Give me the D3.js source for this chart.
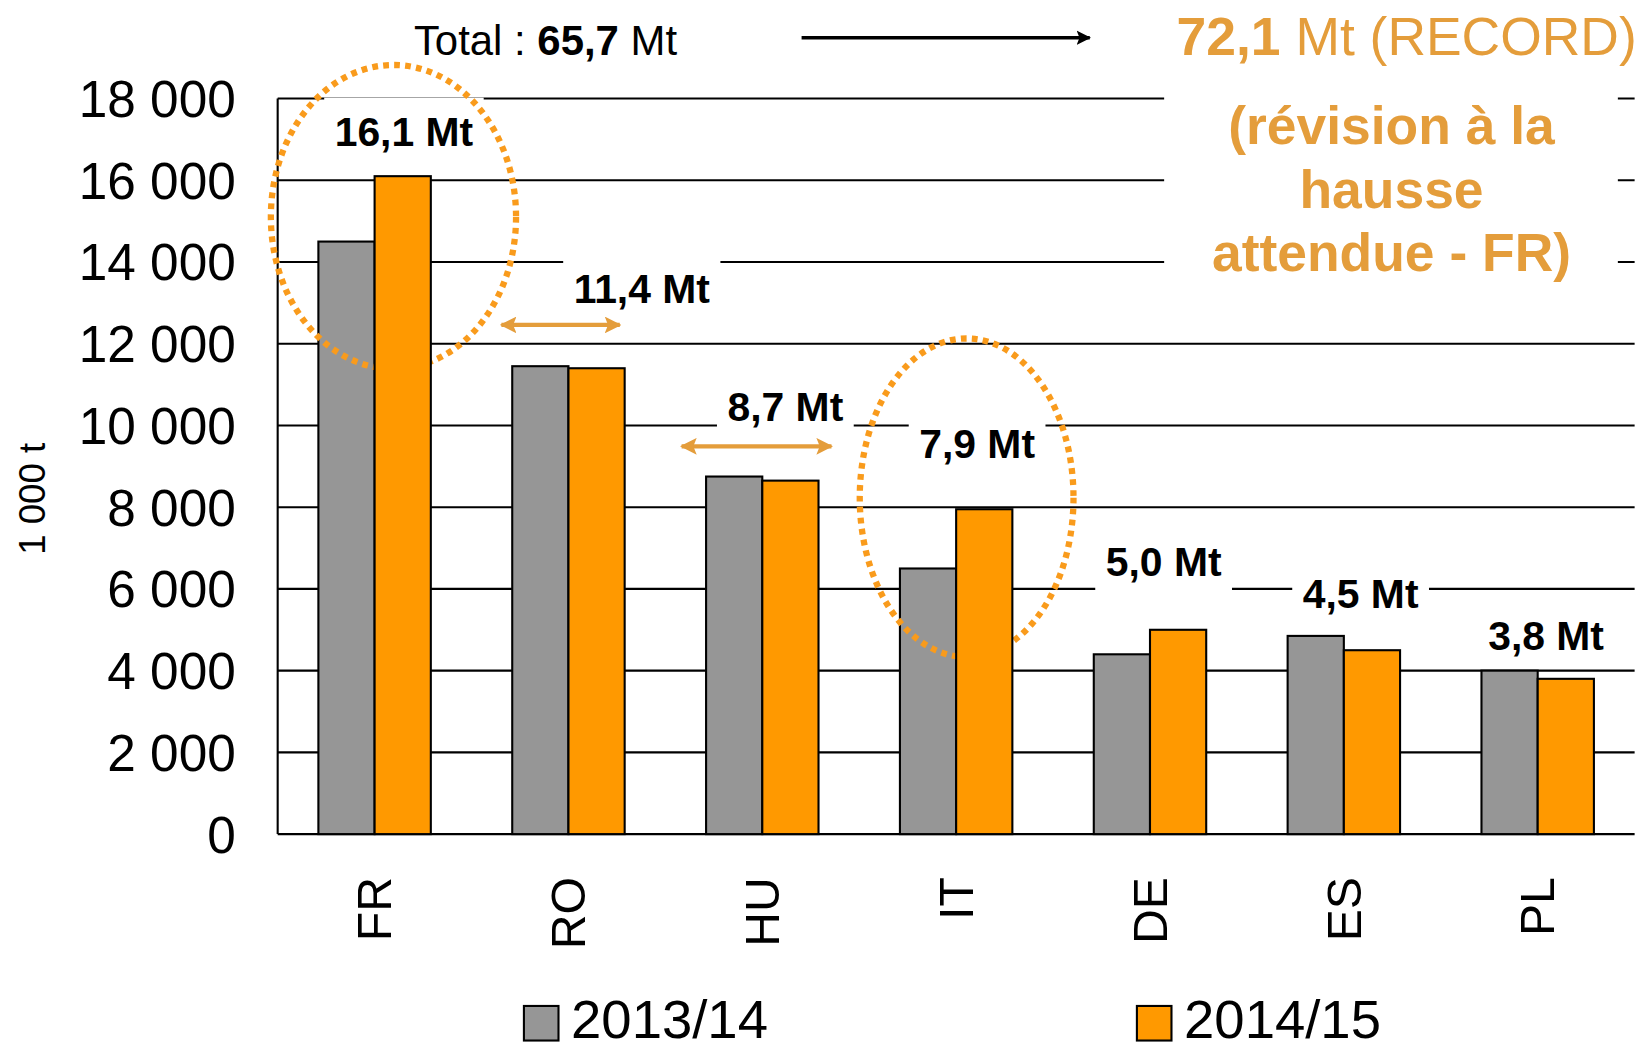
<!DOCTYPE html>
<html>
<head>
<meta charset="utf-8">
<script src="https://cdn.jsdelivr.net/npm/d3@7"></script>
<style>
  body { margin: 0; background: #fff; }
  svg { display: block; font-family: "Liberation Sans", Arial, sans-serif; }
</style>
</head>
<body>
<script>
// data
const categories = ["FR", "RO", "HU", "IT", "DE", "ES", "PL"];
const seriesNames = ["2013/14", "2014/15"];
const values2013 = [14500, 11450, 8750, 6500, 4400, 4850, 4000];
const values2014 = [16100, 11400, 8650, 7950, 5000, 4500, 3800];
const barLabels = ["16,1 Mt", "11,4 Mt", "8,7 Mt", "7,9 Mt", "5,0 Mt", "4,5 Mt", "3,8 Mt"];
const yTicks = [0, 2000, 4000, 6000, 8000, 10000, 12000, 14000, 16000, 18000];

const colors = ["#969696", "#FF9900"];
const accent = "#E49D3B";
const dotted = "#F99B1C";

function plot() {
  // drawing is laid out in a 1568x1002 box, scaled to the window
  let margin = {top: 94, right: 8, bottom: 206, left: 265};
  let W = 1568, H = 1002;

  let svg = d3.select("body").append("svg")
    .attr("width", 1643).attr("height", 1050)
    .attr("viewBox", "0 0 " + W + " " + H);

  let x = d3.scaleBand().domain(categories)
    .range([margin.left, W - margin.right])
    .paddingInner(0.42).paddingOuter(0.21);
  let xs = d3.scaleBand().domain(seriesNames).range([0, x.bandwidth()]);
  let y = d3.scaleLinear().domain([0, 18000]).range([H - margin.bottom, margin.top]);
  let cx = c => x(c) + x.bandwidth() / 2;

  // gridlines
  svg.append("g").selectAll("line").data(yTicks).join("line")
    .attr("x1", margin.left).attr("x2", W - margin.right)
    .attr("y1", d => y(d)).attr("y2", d => y(d))
    .attr("stroke", "#000").attr("stroke-width", 2);

  // y tick labels
  svg.append("g").selectAll("text").data(yTicks).join("text")
    .attr("x", 225).attr("y", d => y(d)).attr("dy", "0.36em")
    .attr("text-anchor", "end").attr("font-size", 49)
    .text(d => d3.format(",")(d).replace(",", " "));

  // y title
  svg.append("text")
    .attr("transform", "translate(43,476) rotate(-90)")
    .attr("text-anchor", "middle").attr("font-size", 35)
    .text("1 000 t");

  // bar labels: offset from category centre, vertical position in data units
  let labelPos = [[28, 17200], [70, 13360], [22, 10460], [20, 9560], [13, 6670], [16, 5900], [8, 4870]];
  let labels = svg.append("g");
  barLabels.forEach((t, i) => {
    let g = labels.append("g")
      .attr("transform", "translate(" + (cx(categories[i]) + labelPos[i][0]) + "," + y(labelPos[i][1]) + ")");
    let txt = g.append("text").attr("text-anchor", "middle").attr("dy", "0.36em")
      .attr("font-size", 39).attr("font-weight", "bold").text(t);
    let w = txt.node().getComputedTextLength();
    g.insert("rect", "text").attr("x", -w / 2 - 10).attr("y", -32)
      .attr("width", w + 20).attr("height", 62).attr("fill", "#fff");
  });

  // right annotation box
  svg.append("rect").attr("x", 1111).attr("y", 84).attr("width", 433).attr("height", 210).attr("fill", "#fff");
  let note = svg.append("text").attr("text-anchor", "middle").attr("font-size", 51)
    .attr("font-weight", "bold").attr("fill", accent);
  ["(révision à la", "hausse", "attendue - FR)"].forEach((t, i) => {
    note.append("tspan").attr("x", 1328).attr("y", 137 + i * 61).text(t);
  });

  // axis line
  svg.append("line").attr("x1", margin.left).attr("x2", margin.left)
    .attr("y1", margin.top).attr("y2", y(0))
    .attr("stroke", "#000").attr("stroke-width", 2);

  function bars(vals, k) {
    svg.append("g").selectAll("rect").data(vals).join("rect")
      .attr("x", (d, i) => x(categories[i]) + xs(seriesNames[k]))
      .attr("y", d => y(d))
      .attr("width", xs.bandwidth())
      .attr("height", d => y(0) - y(d))
      .attr("fill", colors[k]).attr("stroke", "#000").attr("stroke-width", 2);
  }

  bars(values2013, 0);

  // dotted ellipses (sit between the two series)
  let ell = [["FR", 18, 207, 117, 145], ["IT", 10, 475, 102, 152]];
  svg.append("g").selectAll("ellipse").data(ell).join("ellipse")
    .attr("cx", d => cx(d[0]) + d[1]).attr("cy", d => d[2])
    .attr("rx", d => d[3]).attr("ry", d => d[4])
    .attr("fill", "none").attr("stroke", dotted)
    .attr("stroke-width", 6).attr("stroke-dasharray", "5.5 5");

  bars(values2014, 1);

  // x labels
  svg.append("g").selectAll("text").data(categories).join("text")
    .attr("transform", d => "translate(" + (cx(d) + 16) + ",837) rotate(-90)")
    .attr("text-anchor", "end").attr("font-size", 46)
    .text(d => d);

  // arrows
  let defs = svg.append("defs");
  function head(id, col) {
    defs.append("marker").attr("id", id).attr("viewBox", "0 0 10 10")
      .attr("refX", 9).attr("refY", 5).attr("markerWidth", 4).attr("markerHeight", 4)
      .attr("orient", "auto-start-reverse")
      .append("path").attr("d", "M0,0L10,5L0,10L2,5Z").attr("fill", col);
  }
  head("hb", "#000");
  head("ho", accent);

  svg.append("line").attr("x1", 765).attr("x2", 1040).attr("y1", 36).attr("y2", 36)
    .attr("stroke", "#000").attr("stroke-width", 3.5).attr("marker-end", "url(#hb)");

  let dbl = [["FR", 121, 234, 12460], ["RO", 108, 251, 9490]];
  svg.append("g").selectAll("line").data(dbl).join("line")
    .attr("x1", d => cx(d[0]) + d[1]).attr("x2", d => cx(d[0]) + d[2])
    .attr("y1", d => y(d[3])).attr("y2", d => y(d[3]))
    .attr("stroke", accent).attr("stroke-width", 4)
    .attr("marker-start", "url(#ho)").attr("marker-end", "url(#ho)");

  // titles
  let total = svg.append("text").attr("x", 395).attr("y", 52).attr("font-size", 40);
  total.append("tspan").text("Total : ");
  total.append("tspan").attr("font-weight", "bold").text("65,7");
  total.append("tspan").text(" Mt");

  let rec = svg.append("text").attr("x", 1562).attr("y", 52).attr("text-anchor", "end")
    .attr("font-size", 51).attr("fill", accent);
  rec.append("tspan").attr("font-weight", "bold").text("72,1");
  rec.append("tspan").text(" Mt (RECORD)");

  // legend
  let lx = [500, 1085];
  seriesNames.forEach((s, i) => {
    svg.append("rect").attr("x", lx[i]).attr("y", 960).attr("width", 33).attr("height", 33)
      .attr("fill", colors[i]).attr("stroke", "#000").attr("stroke-width", 2);
    svg.append("text").attr("x", lx[i] + 45).attr("y", 991).attr("font-size", 52).text(s);
  });
}

plot()
</script>
</body>
</html>
